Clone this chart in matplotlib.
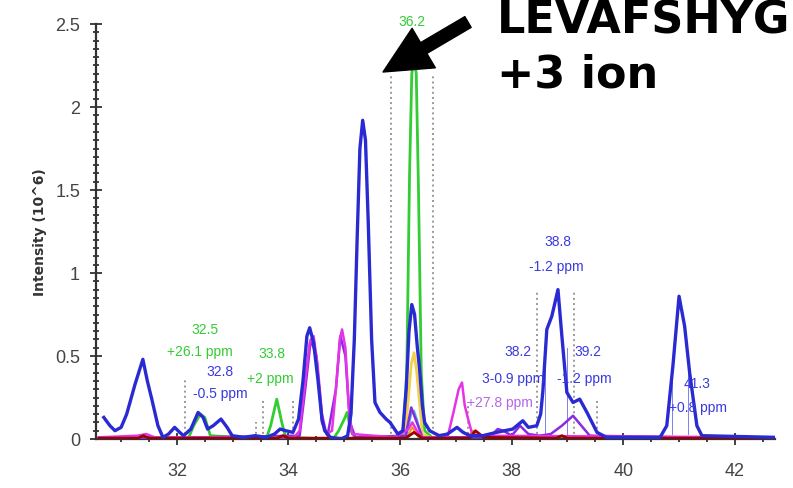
import numpy as np
import matplotlib
matplotlib.use("Agg")
import matplotlib.pyplot as plt
from matplotlib.ticker import FuncFormatter, MultipleLocator

# retention time (min) / intensity (10^6)
blue_x = [30.69, 30.80, 30.89, 31.00, 31.10, 31.25, 31.39, 31.47, 31.55, 31.66, 31.75, 31.85, 31.96,
          32.05, 32.12, 32.25, 32.38, 32.47, 32.55, 32.65, 32.79, 32.90, 32.99, 33.20, 33.40, 33.60,
          33.75, 33.85, 33.95, 34.08, 34.18, 34.26, 34.33, 34.38, 34.45, 34.53, 34.60, 34.65, 34.75,
          34.95, 35.06, 35.12, 35.18, 35.23, 35.28, 35.33, 35.38, 35.43, 35.49, 35.55, 35.64, 35.75,
          35.82, 35.96, 36.05, 36.11, 36.16, 36.21, 36.26, 36.31, 36.35, 36.40, 36.44, 36.53, 36.70,
          36.85, 37.02, 37.13, 37.25, 37.48, 37.73, 38.02, 38.20, 38.30, 38.45, 38.52, 38.56, 38.63,
          38.72, 38.83, 38.90, 38.99, 39.10, 39.22, 39.35, 39.53, 39.70, 40.66, 40.78, 40.89, 41.00,
          41.10, 41.19, 41.32, 41.41, 42.72]
blue_y = [0.13, 0.08, 0.05, 0.07, 0.15, 0.33, 0.48, 0.35, 0.24, 0.08, 0.01, 0.03, 0.07,
          0.04, 0.02, 0.06, 0.16, 0.13, 0.06, 0.08, 0.12, 0.07, 0.02, 0.01, 0.02, 0.01,
          0.03, 0.06, 0.05, 0.04, 0.12, 0.35, 0.62, 0.67, 0.58, 0.35, 0.12, 0.05, 0.01,
          0.00, 0.02, 0.15, 0.60, 1.20, 1.75, 1.92, 1.80, 1.30, 0.60, 0.22, 0.16, 0.12,
          0.10, 0.03, 0.05, 0.30, 0.65, 0.81, 0.75, 0.55, 0.42, 0.20, 0.10, 0.05, 0.02,
          0.03, 0.07, 0.04, 0.02, 0.02, 0.04, 0.06, 0.11, 0.07, 0.08, 0.15, 0.29, 0.66,
          0.74, 0.90, 0.62, 0.28, 0.22, 0.24, 0.16, 0.04, 0.01, 0.01, 0.08, 0.44, 0.86,
          0.68, 0.40, 0.08, 0.02, 0.01]

green_x = [30.6, 32.2, 32.3, 32.42, 32.5, 32.6, 33.6, 33.68, 33.79, 33.88, 33.95, 34.8, 34.9, 35.0,
           35.05, 35.12, 35.2, 36.05, 36.12, 36.17, 36.21, 36.25, 36.29, 36.33, 36.38, 36.44, 36.6, 42.7]
green_y = [0.0, 0.0, 0.08, 0.15, 0.13, 0.02, 0.0, 0.08, 0.24, 0.10, 0.01, 0.0, 0.05, 0.12,
           0.16, 0.05, 0.0, 0.01, 0.40, 1.60, 2.20, 2.30, 2.20, 1.50, 0.40, 0.05, 0.0, 0.0]

magenta_x = [30.6, 31.3, 31.45, 31.6, 34.1, 34.2, 34.3, 34.38, 34.45, 34.52, 34.6, 34.68, 34.78, 34.85,
             34.92, 34.96, 35.02, 35.08, 35.14, 35.9, 36.15, 36.22, 36.3, 36.4, 36.85, 36.95, 37.05,
             37.11, 37.16, 37.22, 37.3, 42.7]
magenta_y = [0.01, 0.02, 0.03, 0.01, 0.01, 0.05, 0.35, 0.58, 0.62, 0.45, 0.15, 0.03, 0.05, 0.30,
             0.60, 0.66, 0.55, 0.20, 0.03, 0.01, 0.06, 0.10, 0.05, 0.01, 0.01, 0.15, 0.30,
             0.34, 0.20, 0.12, 0.02, 0.01]

purple_x = [30.6, 34.2, 34.3, 34.4, 34.5, 34.6, 34.7, 34.85, 34.93, 35.02, 35.1, 35.2, 36.1, 36.2, 36.3,
            36.4, 37.6, 37.75, 37.85, 38.0, 38.15, 38.3, 38.5, 38.7, 38.9, 39.1, 39.25, 39.4, 42.7]
purple_y = [0.0, 0.02, 0.30, 0.60, 0.50, 0.10, 0.02, 0.30, 0.62, 0.50, 0.10, 0.01, 0.02, 0.19, 0.10,
            0.01, 0.01, 0.06, 0.05, 0.02, 0.08, 0.03, 0.02, 0.03, 0.08, 0.14, 0.08, 0.02, 0.0]

yellow_x = [35.9, 36.1, 36.2, 36.25, 36.3, 36.4, 36.6]
yellow_y = [0.0, 0.05, 0.45, 0.52, 0.40, 0.03, 0.0]
cyan_x = [36.1, 36.2, 36.25, 36.3, 36.4]
cyan_y = [0.0, 0.15, 0.17, 0.12, 0.0]
orange_x = [30.6, 36.1, 36.22, 36.35, 37.2, 37.3, 37.42, 42.7]
orange_y = [0.0, 0.0, 0.07, 0.0, 0.0, 0.05, 0.0, 0.0]
red_x = [30.6, 31.3, 31.4, 31.5, 33.8, 33.9, 34.0, 36.1, 36.25, 36.4, 37.25, 37.35, 37.5, 38.8, 38.9, 39.0, 42.7]
red_y = [0.005, 0.005, 0.02, 0.005, 0.005, 0.02, 0.005, 0.005, 0.04, 0.005, 0.005, 0.05, 0.01, 0.005, 0.02, 0.005, 0.005]

# integration window markers (x, top)
gray_marks = [(32.15, 0.37), (33.42, 0.10), (33.55, 0.24), (34.08, 0.24), (35.83, 2.2), (36.59, 2.2),
              (37.22, 0.22), (38.45, 0.90), (39.11, 0.90), (39.53, 0.24)]
blue_marks = [(38.6, 0.55), (39.0, 0.55), (40.87, 0.40), (41.16, 0.40)]

# peak labels: (x, y, text, colour)
labels = [
    (32.50, 0.66, "32.5", "#33cc33"),
    (32.41, 0.53, "+26.1 ppm", "#33cc33"),
    (32.77, 0.41, "32.8", "#3a3ae0"),
    (32.77, 0.28, "-0.5 ppm", "#3a3ae0"),
    (33.70, 0.52, "33.8", "#33cc33"),
    (33.67, 0.37, "+2 ppm", "#33cc33"),
    (36.21, 2.52, "36.2", "#33cc33"),
    (38.83, 1.19, "38.8", "#3a3ae0"),
    (38.80, 1.04, "-1.2 ppm", "#3a3ae0"),
    (38.11, 0.53, "38.2", "#3a3ae0"),
    (38.02, 0.37, "3-0.9 ppm", "#3a3ae0"),
    (39.37, 0.53, "39.2", "#3a3ae0"),
    (39.31, 0.37, "-1.2 ppm", "#3a3ae0"),
    (37.79, 0.22, "+27.8 ppm", "#b366e6"),
    (41.32, 0.34, "41.3", "#3a3ae0"),
    (41.34, 0.19, "+0.8 ppm", "#3a3ae0"),
]

fig = plt.figure(figsize=(7.93, 4.89), dpi=100)
ax = fig.add_axes([96/793, 49/489, 679/793, 415/489])

for x, top in gray_marks:
    ax.plot([x, x], [0, top], color="#999999", linestyle=":", linewidth=1.4, zorder=1)
for x, top in blue_marks:
    ax.plot([x, x], [0.03, top], color="#8080f0", linewidth=0.7, zorder=1)

ax.plot(green_x, green_y, color="#33cc33", linewidth=2, zorder=2)
ax.plot(orange_x, orange_y, color="#ff8c1a", linewidth=1.5, zorder=2)
ax.plot(yellow_x, yellow_y, color="#f2d04a", linewidth=2, zorder=2)
ax.plot(cyan_x, cyan_y, color="#33c6d6", linewidth=1.5, zorder=3)
ax.plot(purple_x, purple_y, color="#8a2be2", linewidth=1.8, zorder=3)
ax.plot(magenta_x, magenta_y, color="#e633e6", linewidth=1.8, zorder=3)
ax.plot(red_x, red_y, color="#990000", linewidth=2, zorder=4)
ax.plot(blue_x, blue_y, color="#2a2ad2", linewidth=2.4, zorder=5)

for x, y, t, c in labels:
    ax.text(x, y, t, color=c, fontsize=10, ha="center", va="center", family="Liberation Sans",
            clip_on=False, zorder=6)

ax.set_xlim(30.55, 42.72)
ax.set_ylim(0, 2.5)
for s in ["top", "right"]:
    ax.spines[s].set_visible(False)
for s in ["left", "bottom"]:
    ax.spines[s].set_color("#333333")
    ax.spines[s].set_linewidth(1.6)

ax.xaxis.set_major_locator(MultipleLocator(2))
ax.xaxis.set_minor_locator(MultipleLocator(0.5))
ax.yaxis.set_major_locator(MultipleLocator(0.5))
ax.yaxis.set_minor_locator(MultipleLocator(0.05))
formatter = lambda v, p: "{0:g}".format(v)
ax.xaxis.set_major_formatter(FuncFormatter(formatter))
ax.yaxis.set_major_formatter(FuncFormatter(formatter))
ax.tick_params(which="major", direction="inout", length=9, width=1.3, color="#333333",
               labelsize=13, labelcolor="#444444")
ax.tick_params(which="minor", direction="inout", length=4, width=1.3, color="#333333")
ax.tick_params(axis="x", which="major", pad=12)
ax.tick_params(axis="y", which="major", pad=7)
for lab in ax.get_xticklabels() + ax.get_yticklabels():
    lab.set_family("Liberation Sans")

ax.set_ylabel("Intensity (10^6)", fontsize=10, fontweight="bold", color="#333333")
ax.yaxis.set_label_coords(-0.072, 0.5)

ax.annotate("", xy=(383, 489 - 73), xycoords="figure pixels",
            xytext=(468, 489 - 23), textcoords="figure pixels",
            arrowprops=dict(arrowstyle="simple,head_length=1.7,head_width=1.65,tail_width=0.45",
                            color="black", shrinkA=0, shrinkB=0, mutation_scale=20),
            zorder=10)

fig.text(497/793, 1 - 34/489, "LEVAFSHYG", fontsize=32, fontweight="bold", va="baseline",
         family="DejaVu Sans")
fig.text(497/793, 1 - 88/489, "+3 ion", fontsize=32, fontweight="bold", va="baseline",
         family="DejaVu Sans")

fig.savefig("out.png", dpi=100)
